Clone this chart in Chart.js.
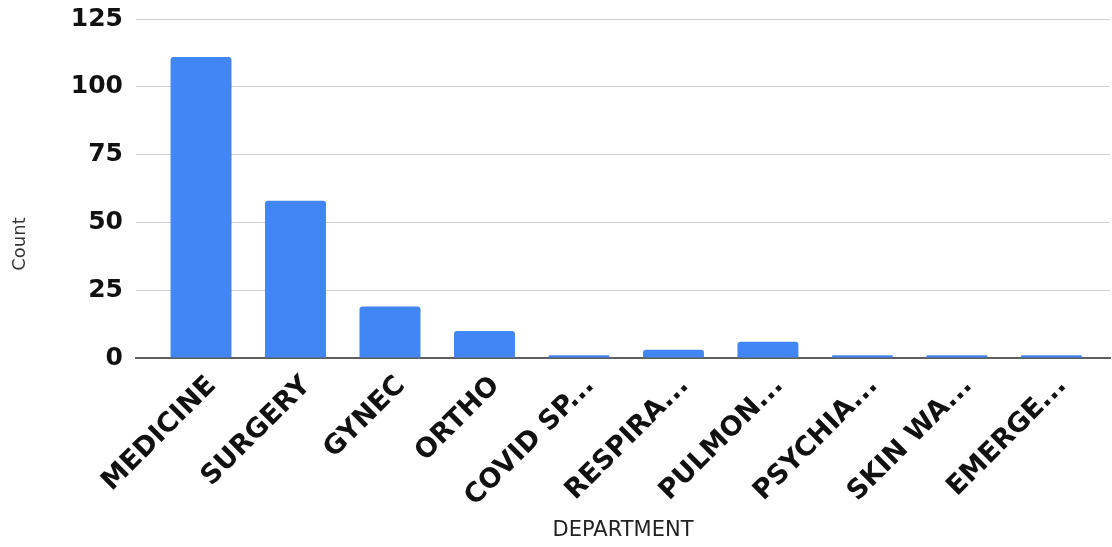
<!DOCTYPE html>
<html>
<head>
<meta charset="utf-8">
<script src="https://cdn.jsdelivr.net/npm/chart.js@4/dist/chart.umd.min.js"></script>
<style>
  html, body { margin: 0; padding: 0; background: #ffffff; overflow: hidden; }
  #wrap { width: 1112px; height: 547px; position: relative; }
</style>
</head>
<body>
<div id="wrap"><canvas id="chart" width="1112" height="547"></canvas></div>
<script>
// Patients per department
const departments = ['MEDICINE', 'SURGERY', 'GYNEC', 'ORTHO', 'COVID SP...', 'RESPIRA...', 'PULMON...', 'PSYCHIA...', 'SKIN WA...', 'EMERGE...'];
const counts = [111, 58, 19, 10, 1, 3, 6, 1, 1, 1];
const yTickValues = [0, 25, 50, 75, 100, 125];
const xAxisTitle = 'DEPARTMENT';
const yAxisTitle = 'Count';

const BAR_BLUE = '#4285f4';
const FONT_FAMILY = '"DejaVu Sans", sans-serif';

// Vertical axis title, centred on the whole figure rather than the plot
const yTitlePlugin = {
  id: 'yTitle',
  afterDraw(chart) {
    const ctx = chart.ctx;
    ctx.save();
    ctx.translate(20, 244);
    ctx.rotate(-Math.PI / 2);
    ctx.font = '18px ' + FONT_FAMILY;
    ctx.fillStyle = '#333333';
    ctx.textAlign = 'center';
    ctx.textBaseline = 'middle';
    ctx.fillText(yAxisTitle, 0, 0);
    ctx.restore();
  }
};

new Chart(document.getElementById('chart'), {
  type: 'bar',
  data: {
    datasets: [{
      data: counts.map((v, i) => ({ x: i, y: v })),
      backgroundColor: BAR_BLUE,
      borderWidth: 0,
      borderRadius: 3,
      barPercentage: 0.645,
      categoryPercentage: 1.0
    }]
  },
  options: {
    responsive: false,
    animation: false,
    events: [],
    layout: { padding: { top: 19, right: 2, bottom: 0, left: 0 } },
    plugins: {
      legend: { display: false },
      tooltip: { enabled: false }
    },
    scales: {
      x: {
        type: 'linear',
        bounds: 'data',
        offset: false,
        min: -0.688,
        max: 9.62,
        afterBuildTicks: s => { s.ticks = departments.map((_, i) => ({ value: i })); },
        afterFit: s => { s.height = 547 - 358; },
        grid: { display: false, drawTicks: false },
        border: { display: true, color: '#5f5f5f', width: 2 },
        ticks: {
          autoSkip: false,
          minRotation: 45,
          maxRotation: 45,
          padding: 12,
          labelOffset: 11,
          color: '#111111',
          font: { family: FONT_FAMILY, size: 27, weight: 'bold' },
          callback: v => departments[v]
        },
        title: {
          display: true,
          text: xAxisTitle,
          color: '#222222',
          font: { family: FONT_FAMILY, size: 21 },
          padding: { top: 0, bottom: 4 }
        }
      },
      y: {
        min: 0,
        max: 125,
        afterBuildTicks: s => { s.ticks = yTickValues.map(v => ({ value: v })); },
        afterFit: s => { s.width = 136; s.paddingTop = 0; s.paddingBottom = 0; },
        grid: {
          drawTicks: false,
          color: c => (c.tick && c.tick.value === 0) ? 'rgba(0,0,0,0)' : '#d0d0d0',
          lineWidth: 1
        },
        border: { display: false },
        ticks: {
          padding: 13,
          color: '#111111',
          font: { family: FONT_FAMILY, size: 25, weight: 'bold' }
        }
      }
    }
  },
  plugins: [yTitlePlugin]
});
</script>
</body>
</html>
